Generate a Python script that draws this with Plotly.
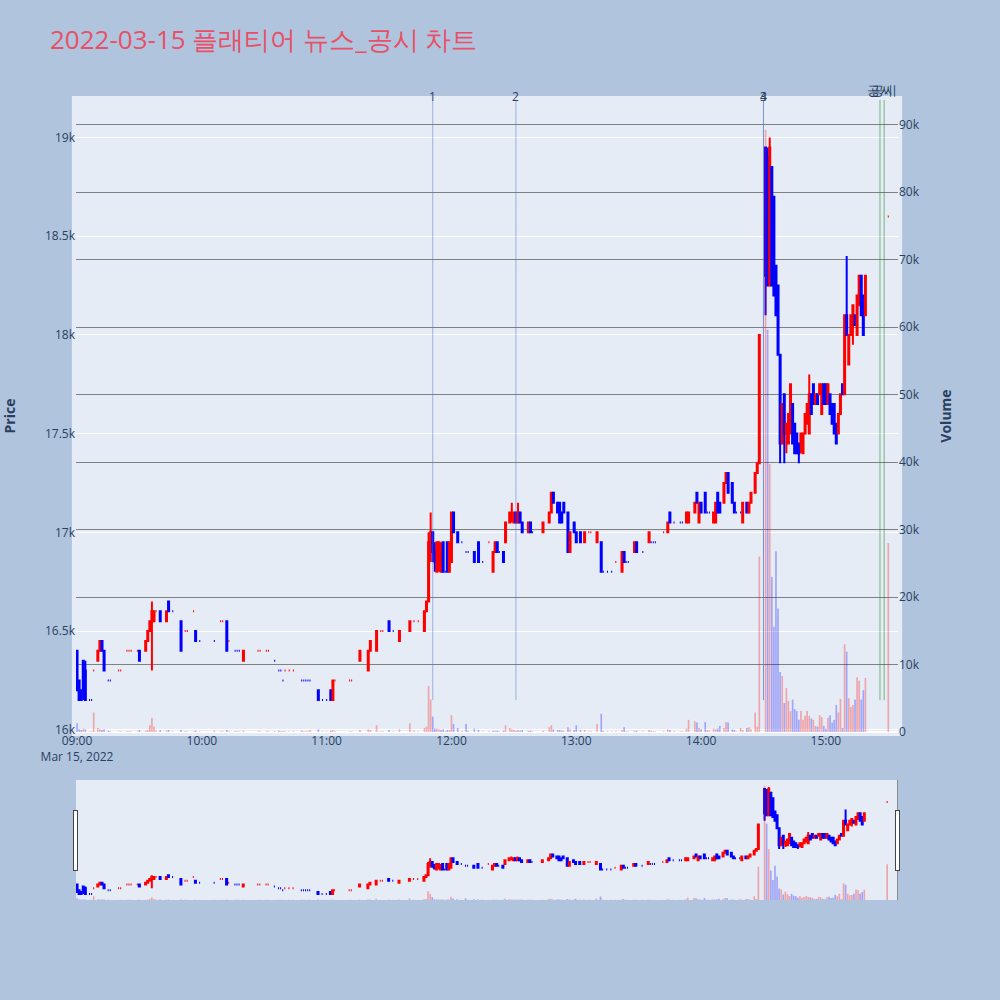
import plotly.graph_objects as go

DAY = "2022-03-15"
TITLE = "2022-03-15 플래티어 뉴스_공시 차트"

# 1분봉 (거래 없는 분은 빠짐)
times = [
    # 09시
    "09:00", "09:01", "09:02", "09:03", "09:04", "09:06", "09:07", "09:08", "09:10", "09:11",
    "09:12", "09:13", "09:15", "09:16", "09:20", "09:21", "09:24", "09:25", "09:26", "09:29",
    "09:30", "09:33", "09:34", "09:35", "09:36", "09:37", "09:38", "09:40", "09:43", "09:44",
    "09:46", "09:50", "09:52", "09:53", "09:56", "09:57", "09:59",
    # 10시
    "10:06", "10:09", "10:10", "10:12", "10:13", "10:16", "10:17", "10:18", "10:20", "10:27",
    "10:28", "10:31", "10:32", "10:35", "10:37", "10:38", "10:39", "10:40", "10:42", "10:44",
    "10:48", "10:49", "10:50", "10:51", "10:52", "10:56", "10:58",
    # 11시
    "11:00", "11:02", "11:03", "11:04", "11:11", "11:12", "11:16", "11:20", "11:21", "11:24",
    "11:26", "11:27", "11:30", "11:32", "11:35", "11:40", "11:42", "11:44", "11:47", "11:48",
    "11:49", "11:50", "11:51", "11:52", "11:53", "11:54", "11:55", "11:56", "11:57", "11:58",
    "11:59",
    # 12시
    "12:00", "12:01", "12:03", "12:05", "12:07", "12:08", "12:11", "12:13", "12:15", "12:18",
    "12:20", "12:21", "12:22", "12:23", "12:25", "12:26", "12:28", "12:29", "12:30", "12:31",
    "12:32", "12:33", "12:34", "12:37", "12:38", "12:39", "12:44", "12:47", "12:48", "12:49",
    "12:51", "12:52", "12:53", "12:54", "12:56", "12:57", "12:59",
    # 13시
    "13:00", "13:02", "13:04", "13:06", "13:07", "13:10", "13:12", "13:13", "13:15", "13:17",
    "13:19", "13:22", "13:23", "13:24", "13:25", "13:28", "13:29", "13:32", "13:35", "13:36",
    "13:37", "13:38", "13:42", "13:44", "13:45", "13:47", "13:50", "13:51", "13:53", "13:54",
    "13:57", "13:58", "13:59",
    # 14시
    "14:00", "14:02", "14:03", "14:04", "14:06", "14:07", "14:08", "14:09", "14:11", "14:12",
    "14:13", "14:15", "14:16", "14:17", "14:19", "14:20", "14:22", "14:23", "14:24", "14:26",
    "14:27", "14:28",
    "14:31", "14:32", "14:33", "14:34", "14:35", "14:36", "14:37", "14:38", "14:39", "14:40",
    "14:41", "14:42", "14:43", "14:44", "14:45", "14:46", "14:47", "14:48", "14:49", "14:50",
    "14:51", "14:52", "14:53", "14:54", "14:55", "14:56", "14:57", "14:58", "14:59",
    # 15시
    "15:00", "15:01", "15:02", "15:03", "15:04", "15:05", "15:06", "15:07", "15:08", "15:09",
    "15:10", "15:11", "15:12", "15:13", "15:14", "15:15", "15:16", "15:17", "15:18", "15:19",
    "15:30",
]

opens = [
    16400, 16250, 16200, 16350, 16300, 16150, 16150, 16300, 16350, 16400,
    16450, 16400, 16250, 16250, 16300, 16300, 16400, 16400, 16400, 16400,
    16400, 16400, 16450, 16500, 16550, 16550, 16600, 16600, 16550, 16650,
    16600, 16550, 16500, 16500, 16600, 16500, 16450,
    16450, 16550, 16550, 16550, 16450, 16400, 16400, 16400, 16350, 16400,
    16400, 16400, 16400, 16350, 16300, 16300, 16250, 16300, 16300, 16300,
    16250, 16250, 16250, 16250, 16250, 16200, 16150,
    16150, 16200, 16150, 16250, 16250, 16250, 16350, 16300, 16400, 16400,
    16500, 16500, 16550, 16500, 16450, 16500, 16550, 16550, 16500, 16600,
    16650, 16950, 17000, 16900, 16800, 16850, 16800, 16950, 16800, 16950,
    16800,
    16850, 17100, 17000, 16950, 16900, 16900, 16900, 16950, 16850, 16950,
    16800, 16900, 16950, 16900, 16900, 16950, 17050, 17100, 17050, 17100,
    17050, 17100, 17050, 17000, 17050, 17000, 17000, 17050, 17100, 17200,
    17150, 17150, 17100, 17150, 17100, 16900, 17050,
    17000, 17000, 16950, 17000, 17000, 16950, 16950, 16800, 16800, 16800,
    16850, 16800, 16900, 16850, 16850, 16900, 16950, 16900, 16950, 16950,
    16950, 16950, 17000, 17000, 17100, 17050, 17050, 17050, 17050, 17050,
    17100, 17200, 17050,
    17150, 17200, 17100, 17100, 17050, 17050, 17200, 17150, 17150, 17250,
    17300, 17250, 17150, 17100, 17100, 17050, 17150, 17100, 17150, 17200,
    17300, 17350,
    18950, 18900, 18250, 18850, 18700, 18350, 18250, 17900, 17450, 17700,
    17500, 17450, 17500, 17650, 17550, 17500, 17450, 17450, 17400, 17500,
    17550, 17500, 17700, 17750, 17650, 17700, 17700, 17600, 17750,
    17750, 17650, 17700, 17650, 17650, 17550, 17500, 17600, 17750, 17700,
    18100, 17850, 18000, 18050, 18100, 18000, 18150, 18300, 18200, 18100,
    18600,
]

highs = [
    16400, 16250, 16200, 16350, 16350, 16150, 16150, 16300, 16400, 16450,
    16450, 16400, 16250, 16250, 16300, 16300, 16400, 16400, 16400, 16400,
    16400, 16450, 16500, 16550, 16650, 16600, 16600, 16600, 16600, 16650,
    16600, 16550, 16500, 16500, 16600, 16500, 16450,
    16450, 16550, 16550, 16550, 16450, 16400, 16400, 16400, 16400, 16400,
    16400, 16400, 16400, 16350, 16300, 16300, 16250, 16300, 16300, 16300,
    16250, 16250, 16250, 16250, 16250, 16200, 16150,
    16150, 16200, 16250, 16250, 16250, 16250, 16400, 16400, 16450, 16500,
    16500, 16500, 16550, 16500, 16500, 16550, 16550, 16550, 16600, 16650,
    17000, 17100, 17000, 16950, 16950, 16950, 16950, 16950, 16800, 16950,
    16950,
    17100, 17100, 17000, 16950, 16900, 16900, 16900, 16950, 16850, 16950,
    16900, 16950, 16950, 16900, 16900, 17050, 17100, 17150, 17100, 17100,
    17150, 17100, 17050, 17050, 17050, 17000, 17050, 17100, 17200, 17200,
    17150, 17150, 17100, 17150, 17100, 17000, 17050,
    17000, 17000, 17000, 17000, 17000, 17000, 16950, 16800, 16800, 16800,
    16850, 16900, 16900, 16850, 16850, 16950, 16950, 16900, 17000, 16950,
    16950, 16950, 17000, 17050, 17100, 17050, 17050, 17050, 17100, 17100,
    17150, 17200, 17150,
    17150, 17200, 17100, 17100, 17100, 17150, 17200, 17150, 17250, 17300,
    17300, 17250, 17150, 17100, 17100, 17150, 17150, 17150, 17200, 17300,
    17350, 18000,
    18950, 18950, 19000, 18850, 18700, 18350, 18250, 17900, 17650, 17700,
    17550, 17600, 17750, 17650, 17550, 17500, 17450, 17500, 17500, 17600,
    17650, 17800, 17700, 17750, 17700, 17700, 17750, 17750, 17750,
    17750, 17750, 17700, 17650, 17650, 17550, 17600, 17700, 17750, 18100,
    18400, 18000, 18100, 18150, 18100, 18200, 18300, 18300, 18200, 18300,
    18600,
]

lows = [
    16200, 16150, 16150, 16150, 16150, 16150, 16150, 16300, 16350, 16400,
    16400, 16300, 16250, 16250, 16300, 16300, 16400, 16400, 16400, 16400,
    16350, 16400, 16450, 16500, 16300, 16550, 16600, 16550, 16550, 16600,
    16600, 16400, 16500, 16500, 16600, 16450, 16450,
    16450, 16550, 16550, 16400, 16450, 16400, 16400, 16400, 16350, 16400,
    16400, 16400, 16400, 16350, 16300, 16300, 16250, 16300, 16300, 16300,
    16250, 16250, 16250, 16250, 16250, 16150, 16150,
    16150, 16150, 16150, 16250, 16250, 16250, 16350, 16300, 16400, 16400,
    16500, 16500, 16500, 16500, 16450, 16500, 16550, 16550, 16500, 16600,
    16650, 16850, 16850, 16800, 16800, 16800, 16800, 16800, 16800, 16800,
    16800,
    16850, 17000, 16950, 16950, 16900, 16900, 16850, 16850, 16850, 16950,
    16800, 16900, 16900, 16900, 16850, 16950, 17050, 17050, 17050, 17050,
    17050, 17050, 17000, 17000, 17000, 17000, 17000, 17050, 17100, 17150,
    17100, 17050, 17050, 17100, 16900, 16900, 17000,
    16950, 16950, 16950, 17000, 17000, 16950, 16800, 16800, 16800, 16800,
    16850, 16800, 16850, 16850, 16850, 16900, 16900, 16900, 16950, 16950,
    16950, 16950, 17000, 17000, 17050, 17050, 17050, 17050, 17050, 17050,
    17100, 17150, 17050,
    17100, 17100, 17100, 17100, 17050, 17050, 17100, 17100, 17150, 17250,
    17200, 17150, 17100, 17100, 17100, 17050, 17100, 17100, 17150, 17200,
    17300, 17350,
    18100, 18250, 18250, 18250, 18200, 18100, 17900, 17350, 17450, 17350,
    17400, 17450, 17500, 17450, 17400, 17400, 17350, 17400, 17400, 17500,
    17550, 17500, 17600, 17650, 17650, 17650, 17700, 17600, 17650,
    17650, 17650, 17600, 17550, 17500, 17450, 17500, 17600, 17700, 17700,
    18000, 17850, 18000, 17950, 18050, 18000, 18150, 18100, 18000, 18100,
    18600,
]

closes = [
    16200, 16150, 16150, 16200, 16150, 16150, 16150, 16300, 16400, 16450,
    16400, 16300, 16250, 16250, 16300, 16300, 16400, 16400, 16400, 16400,
    16350, 16450, 16500, 16550, 16600, 16600, 16600, 16550, 16600, 16600,
    16600, 16400, 16500, 16500, 16600, 16450, 16450,
    16450, 16550, 16550, 16400, 16450, 16400, 16400, 16400, 16400, 16400,
    16400, 16400, 16400, 16350, 16300, 16300, 16250, 16300, 16300, 16300,
    16250, 16250, 16250, 16250, 16250, 16150, 16150,
    16150, 16150, 16250, 16250, 16250, 16250, 16400, 16400, 16450, 16500,
    16500, 16500, 16500, 16500, 16500, 16550, 16550, 16550, 16600, 16650,
    16950, 17000, 16900, 16850, 16950, 16950, 16900, 16800, 16800, 16800,
    16950,
    17100, 17000, 16950, 16950, 16900, 16900, 16850, 16850, 16850, 16950,
    16900, 16950, 16900, 16900, 16850, 17050, 17100, 17100, 17100, 17050,
    17100, 17050, 17000, 17050, 17000, 17000, 17050, 17100, 17200, 17150,
    17100, 17050, 17050, 17100, 16900, 17000, 17000,
    16950, 16950, 17000, 17000, 17000, 17000, 16800, 16800, 16800, 16800,
    16850, 16900, 16850, 16850, 16850, 16950, 16900, 16900, 17000, 16950,
    16950, 16950, 17000, 17050, 17050, 17050, 17050, 17050, 17100, 17100,
    17150, 17150, 17150,
    17100, 17100, 17100, 17100, 17100, 17150, 17100, 17100, 17250, 17300,
    17200, 17150, 17100, 17100, 17100, 17150, 17100, 17150, 17200, 17300,
    17350, 18000,
    18300, 18250, 18950, 18250, 18200, 18100, 17900, 17450, 17650, 17500,
    17550, 17600, 17750, 17450, 17400, 17400, 17400, 17500, 17500, 17600,
    17650, 17700, 17600, 17650, 17700, 17650, 17750, 17750, 17650,
    17650, 17750, 17600, 17550, 17500, 17450, 17600, 17700, 17700, 18100,
    18000, 18000, 18100, 18150, 18050, 18200, 18300, 18100, 18000, 18300,
    18600,
]

volumes = [
    1300, 400, 300, 500, 400, 100, 100, 2900, 600, 400,
    300, 400, 200, 100, 100, 100, 100, 100, 100, 100,
    300, 200, 300, 1000, 2100, 800, 200, 300, 200, 300,
    100, 300, 100, 100, 100, 200, 100,
    200, 100, 100, 300, 100, 100, 100, 100, 200, 100,
    100, 100, 100, 100, 200, 100, 100, 100, 100, 100,
    200, 100, 100, 100, 300, 400, 100,
    100, 200, 300, 100, 100, 100, 300, 400, 300, 1000,
    100, 100, 300, 100, 400, 1300, 200, 100, 600, 800,
    6800, 4800, 2300, 500, 500, 400, 300, 400, 100, 300,
    300,
    2500, 1200, 600, 100, 1200, 200, 500, 300, 100, 100,
    200, 200, 200, 100, 200, 1000, 600, 400, 300, 200,
    300, 200, 300, 200, 200, 100, 200, 700, 1000, 400,
    300, 300, 200, 200, 700, 400, 300,
    1000, 300, 300, 100, 100, 1200, 2700, 200, 100, 100,
    100, 300, 700, 100, 100, 200, 200, 100, 300, 100,
    100, 100, 100, 400, 300, 100, 100, 100, 500, 1800,
    1600, 1400, 600,
    400, 1500, 300, 200, 500, 400, 500, 900, 600, 1500,
    1400, 400, 300, 100, 600, 300, 600, 700, 400, 2900,
    800, 26000,
    89200, 59600, 39700, 23000, 15600, 26800, 18300, 8900, 8300, 4300,
    6500, 4600, 3100, 4800, 3400, 3100, 1800, 3100, 1800, 2400,
    3100, 2400, 2000, 1800, 900, 800, 2500, 2200, 900,
    500, 2100, 2500, 1400, 1800, 4000, 2900, 4900, 600, 13000,
    11900, 5000, 3700, 4000, 4800, 8100, 7600, 4800, 6200, 8000,
    28000,
]

# 뉴스 / 공시 시각
event_times = ["11:51", "12:31", "14:30", "14:30"]
event_labels = ["1", "2", "3", "4"]
notice_times = ["15:26", "15:28"]
notice_labels = ["공시", "공시"]

n = len(times)
assert all(len(a) == n for a in (opens, highs, lows, closes, volumes))

x = [f"{DAY} {t}" for t in times]
low_min = min(lows)
high_max = max(highs)
line_top = high_max * 1.01

# 거래량 색: 직전 종가 대비
vol_colors = []
prev_close = None
for o, c in zip(opens, closes):
    ref = o if prev_close is None else prev_close
    up = c > ref or (c == ref and c >= o)
    vol_colors.append("rgba(255,0,0,0.3)" if up else "rgba(0,0,255,0.3)")
    prev_close = c

fig = go.Figure()
fig.add_trace(go.Candlestick(
    x=x, open=opens, high=highs, low=lows, close=closes,
    increasing=dict(line=dict(color="red"), fillcolor="red"),
    decreasing=dict(line=dict(color="blue"), fillcolor="blue"),
    name="Price", showlegend=False))
fig.add_trace(go.Bar(
    x=x, y=volumes, yaxis="y2", name="Volume", showlegend=False,
    marker=dict(color=vol_colors, line=dict(width=0))))

shapes = [dict(type="rect", xref="paper", yref="paper",
               x0=-0.005, x1=1.005, y0=-0.0065, y1=1.0065,
               fillcolor="#E5ECF6", line=dict(width=0), layer="below")]
annotations = []
for t, lab in zip(event_times, event_labels):
    xt = f"{DAY} {t}"
    shapes.append(dict(type="line", xref="x", yref="y", x0=xt, x1=xt,
                       y0=low_min, y1=line_top,
                       line=dict(color="rgba(90,115,200,0.5)", width=1)))
    annotations.append(dict(x=xt, y=line_top, xref="x", yref="y", text=lab,
                            showarrow=False, yanchor="bottom", yshift=-7,
                            font=dict(size=12, color="#2a3f5f")))
for t, lab in zip(notice_times, notice_labels):
    xt = f"{DAY} {t}"
    shapes.append(dict(type="line", xref="x", yref="y", x0=xt, x1=xt,
                       y0=low_min, y1=line_top,
                       line=dict(color="rgba(0,128,0,0.5)", width=1)))
    annotations.append(dict(x=xt, y=line_top, xref="x", yref="y", text=lab,
                            showarrow=False, yanchor="bottom", yshift=-1,
                            font=dict(size=13, color="#2a3f5f")))

fig.update_layout(
    width=1000, height=1000,
    paper_bgcolor="lightsteelblue",
    plot_bgcolor="#E5ECF6",
    title=dict(text=TITLE, x=0.05, xanchor="left", y=0.96, yanchor="middle",
               font=dict(size=26, color="#E75068")),
    margin=dict(l=76, r=102, t=100, b=100),
    showlegend=False,
    xaxis=dict(range=[f"{DAY} 08:59:30", f"{DAY} 15:34:40"], showgrid=False,
               rangeslider=dict(visible=True, bgcolor="#E5ECF6")),
    yaxis=dict(title=dict(text="<b>Price</b>", standoff=27), automargin=False,
               range=[low_min * 0.99, line_top]),
    yaxis2=dict(title=dict(text="<b>Volume</b>", standoff=22),
                overlaying="y", side="right",
                range=[0, max(volumes) * 1.05], showgrid=True, gridcolor="gray"),
    shapes=shapes,
    annotations=annotations,
)

fig.write_html("out.html", config={"displayModeBar": False},
               post_script="document.body.style.margin='0';")
